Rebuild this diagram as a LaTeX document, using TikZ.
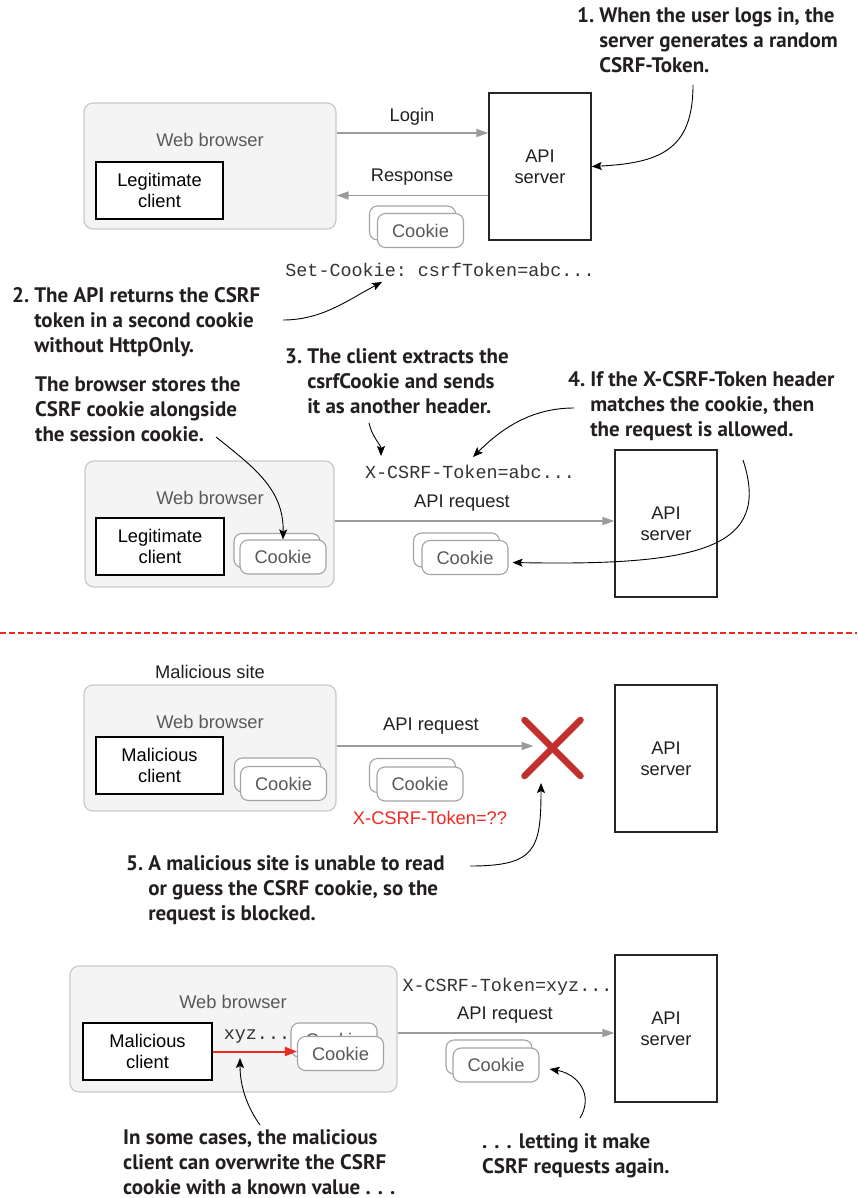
\documentclass[tikz,border=0pt]{standalone}
\usepackage{fontspec}
\setmainfont{Liberation Sans}
\setmonofont{Liberation Mono}
\newfontfamily\notefont{PT Sans}
\usetikzlibrary{arrows.meta,calc}

\definecolor{bfill}{HTML}{F3F4F3}
\definecolor{bline}{HTML}{C8CAC8}
\definecolor{garrowc}{HTML}{9B9B9B}
\definecolor{cline}{HTML}{A3A3A3}
\definecolor{grtext}{HTML}{58595B}
\definecolor{redline}{HTML}{EE2A24}
\definecolor{xred}{HTML}{C1302C}
\definecolor{ink}{HTML}{231F20}

\tikzset{
  body/.style={font=\fontsize{18.3}{21}\selectfont},
  browser/.style={draw=bline, fill=bfill, line width=1.2pt, rounded corners=9pt, inner sep=0pt},
  browsertitle/.style={body, text=grtext, inner sep=0pt},
  clientbox/.style={draw=black, line width=1.6pt, fill=white, align=center, body, inner sep=0pt,
    minimum height=57pt},
  server/.style={draw=black!85, line width=1.4pt, fill=white, align=center, body, text=ink,
    inner sep=0pt, minimum width=102pt, minimum height=147pt},
  cookieback/.style={draw=cline, line width=1.1pt, fill=white, rounded corners=8pt, body, text=grtext,
    minimum width=86pt, minimum height=34pt, inner sep=0pt},
  cookiecard/.style={cookieback},
  lbl/.style={body, text=ink, inner sep=0pt},
  mono/.style={font=\ttfamily\fontsize{18.4}{21}\selectfont, text=black!80, inner sep=0pt},
  note/.style={font=\notefont\bfseries\fontsize{21}{25}\selectfont, text=ink, anchor=base west,
    inner sep=0pt},
  garrow/.style={draw=garrowc, line width=1.5pt, -{Triangle[length=12pt,width=8pt]}},
  narrow/.style={draw=black, line width=0.9pt, -{Stealth[length=10pt,width=8pt,inset=2pt]}},
  rarrow/.style={draw=redline, color=redline, line width=2pt, -{Triangle[length=12pt,width=9pt]}},
  sepline/.style={draw=redline, color=redline, line width=1.2pt, dash pattern=on 6pt off 3pt},
}

\begin{document}
\begin{tikzpicture}[x=1pt,y=-1pt]
\useasboundingbox (0,0) rectangle (857,1198);
\fill[white] (0,0) rectangle (857,1198);

% ---------- step 1 and 2: login ----------
\node[note] (n1) at (577,23) {\begin{tabular}[t]{@{}l@{\hspace{5pt}}l@{}}1. & When the user logs in, the\\ & server generates a random\\ & CSRF-Token.\end{tabular}};

\node[browser, minimum width=252pt, minimum height=126pt] (br1) at (210,166) {};
\node[browsertitle] (bt1) at (210,140) {Web browser};
\node[clientbox, minimum width=127pt] (cl1) at (159.5,190.5) {Legitimate\\client};
\node[server] (sv1) at (540,166.5) {API\\server};

\draw[garrow] ([yshift=33pt]br1.east) -- ([yshift=33pt]br1.east -| sv1.west);
\node[lbl] (lg1) at (412,117) {Login};
\draw[garrow] ([yshift=-29pt]sv1.west) -- ([yshift=-29pt]sv1.west -| br1.east);
\node[lbl] (rs1) at (412,177) {Response};

\node[cookieback] (ck1b) at (412.5,223) {};
\node[cookiecard] (ck1) at (420.5,230.5) {Cookie};

\node[mono] (sc1) at (440,270) {Set-Cookie: csrfToken=abc...};

\draw[narrow] (693,85) .. controls (693,150) and (660,163) .. (sv1.east);

\node[note] (n2) at (12,302) {\begin{tabular}[t]{@{}l@{\hspace{5pt}}l@{}}2. & The API returns the CSRF\\ & token in a second cookie\\ & without HttpOnly.\end{tabular}};
\coordinate (n2e) at (283,320);
\draw[narrow] (n2e) .. controls (322,320) and (348,300) .. (382,282);

% ---------- step 3 and 4: request with header ----------
\node[note] (n3) at (285,363) {\begin{tabular}[t]{@{}l@{\hspace{5pt}}l@{}}3. & The client extracts the\\ & csrfCookie and sends\\ & it as another header.\end{tabular}};
\node[note] (nb) at (35,391) {\begin{tabular}[t]{@{}l@{}}The browser stores the\\ CSRF cookie alongside\\ the session cookie.\end{tabular}};
\node[note] (n4) at (568,386) {\begin{tabular}[t]{@{}l@{\hspace{5pt}}l@{}}4. & If the X-CSRF-Token header\\ & matches the cookie, then\\ & the request is allowed.\end{tabular}};

\node[mono] (xt1) at (470,472) {X-CSRF-Token=abc...};

\node[browser, minimum width=249pt, minimum height=126pt] (br2) at (209.5,524) {};
\node[browsertitle] (bt2) at (210,498) {Web browser};
\node[clientbox, minimum width=128pt] (cl2) at (160,546.5) {Legitimate\\client};
\node[cookieback] (ck2b) at (277,550.5) {};
\node[cookiecard] (ck2) at (283,557) {Cookie};

\node[server] (sv2) at (666,523.5) {API\\server};
\draw[garrow] ([yshift=3pt]br2.east) -- ([yshift=3pt]br2.east -| sv2.west);
\node[lbl] (rq2) at (462,503) {API request};

\node[cookieback] (ck3b) at (456.5,550) {};
\node[cookiecard] (ck3) at (465,557.5) {Cookie};

\draw[narrow] (369,423) .. controls (372,437) and (381,445) .. (381,456);
\draw[narrow] (574,408) .. controls (530,408) and (500,430) .. (473,457);
\draw[narrow] (216,437) .. controls (255,468) and (284,490) .. (ck2.north);
\draw[narrow] (743,460) .. controls (772,548) and (700,566) .. ([xshift=4pt,yshift=-5pt]ck3.east);

% ---------- separator ----------
\coordinate (sepl) at (0,633);
\coordinate (sepr) at (857,633);
\draw[sepline] (sepl) -- (sepr);

% ---------- step 5: malicious site blocked ----------
\node[lbl] (ms) at (210,672) {Malicious site};
\node[browser, minimum width=252pt, minimum height=126pt] (br3) at (210,748) {};
\node[browsertitle] (bt3) at (210,722) {Web browser};
\node[clientbox, minimum width=127pt] (cl3) at (159.5,765.5) {Malicious\\client};
\node[cookieback] (ck4b) at (277.5,775) {};
\node[cookiecard] (ck4) at (283.5,783.5) {Cookie};

\coordinate (xm) at (552.5,748);
\draw[garrow] ([yshift=2pt]br3.east) -- ([xshift=-19pt,yshift=2pt]xm);
\node[lbl] (rq3) at (431,726) {API request};
\draw[xred, line width=6.5pt, line cap=round] ($(xm)+(-28,-28)$) -- ($(xm)+(28,28)$);
\draw[xred, line width=6.5pt, line cap=round] ($(xm)+(-28,28)$) -- ($(xm)+(28,-28)$);

\node[cookieback] (ck5b) at (412.5,775.5) {};
\node[cookiecard] (ck5) at (420,784) {Cookie};
\node[body, text=redline, inner sep=0pt] (xt3) at (430,818) {X-CSRF-Token=??};

\node[server] (sv3) at (666,758.5) {API\\server};

\node[note] (n5) at (126,870) {\begin{tabular}[t]{@{}l@{\hspace{5pt}}l@{}}5. & A malicious site is unable to read\\ & or guess the CSRF cookie, so the\\ & request is blocked.\end{tabular}};
\coordinate (n5e) at (470,866);
\draw[narrow] (n5e) .. controls (535,866) and (541,850) .. (541,783);

% ---------- overwritten cookie ----------
\node[browser, minimum width=327pt, minimum height=126pt] (br4) at (233.5,1029) {};
\node[browsertitle] (bt4) at (233,1002) {Web browser};
\node[clientbox, minimum width=129pt] (cl4) at (147.5,1051.5) {Malicious\\client};
\node[mono] (xyz) at (257,1037) {xyz...};
\node[cookieback] (ck6b) at (334,1040) {Cookie};
\node[cookiecard] (ck6) at (340.5,1053.5) {Cookie};
\draw[rarrow] (cl4.east) -- (cl4.east -| ck6.west);

\node[server] (sv4) at (666,1028.5) {API\\server};
\draw[garrow] ([yshift=-4pt]br4.east) -- ([yshift=-4pt]br4.east -| sv4.west);
\node[lbl] (rq4) at (505,1015) {API request};
\node[mono] (xt4) at (507.5,987) {X-CSRF-Token=xyz...};

\node[cookieback] (ck7b) at (489,1057) {};
\node[cookiecard] (ck7) at (496,1065) {Cookie};

\node[note] (n6) at (123,1144) {\begin{tabular}[t]{@{}l@{}}In some cases, the malicious\\ client can overwrite the CSRF\\ cookie with a known value . . .\end{tabular}};
\node[note] (n7) at (482,1148) {\begin{tabular}[t]{@{}l@{}}. . . letting it make\\ CSRF requests again.\end{tabular}};
\draw[narrow] (260,1125) .. controls (248,1108) and (240,1088) .. (240,1058);
\draw[narrow] (580,1118) .. controls (594,1095) and (578,1074) .. ([xshift=10pt,yshift=-4pt]ck7.east);
\end{tikzpicture}
\end{document}
